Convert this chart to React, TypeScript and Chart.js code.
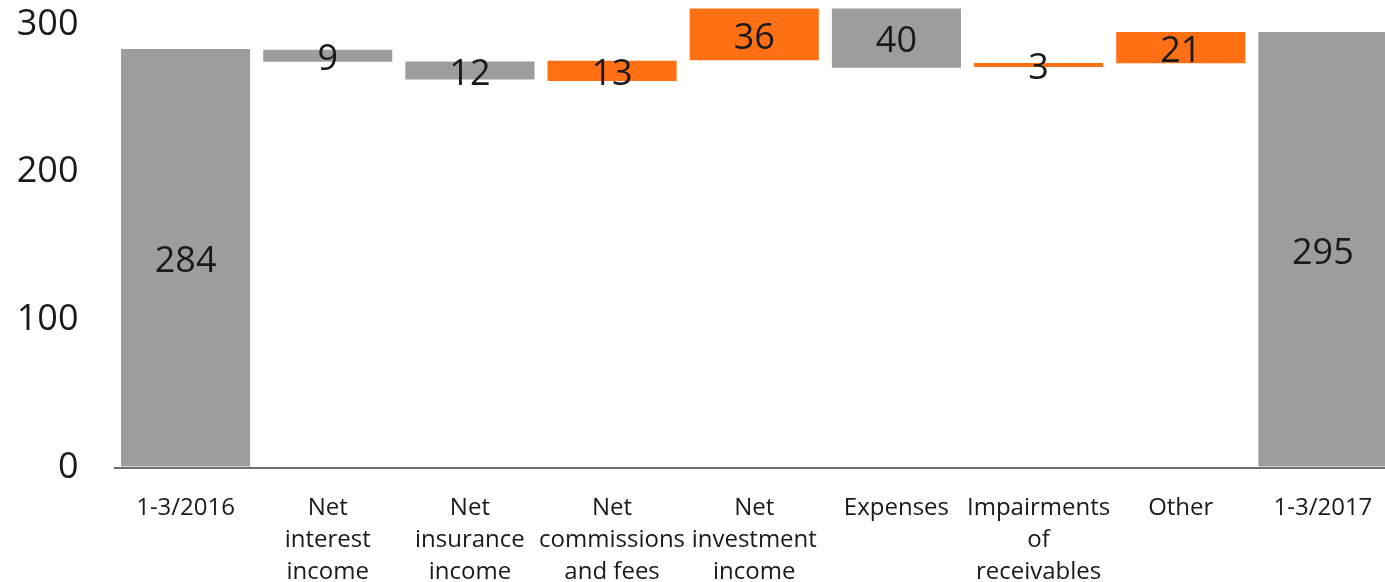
import React, { useEffect, useRef } from "react";
import { Chart, registerables } from "chart.js";

Chart.register(...registerables);

const categories: (string | string[])[] = [
  "1-3/2016",
  ["Net", "interest", "income"],
  ["Net", "insurance", "income"],
  ["Net", "commissions", "and fees"],
  ["Net", "investment", "income"],
  "Expenses",
  ["Impairments", "of", "receivables"],
  "Other",
  "1-3/2017",
];

const barStart = [0, 274, 262, 261, 275, 270, 270.5, 273, 0];
const barEnd = [284, 283.5, 275.5, 276, 311.5, 311.5, 274.5, 295.5, 295.5];
const valueLabels = ["284", "9", "12", "13", "36", "40", "3", "21", "295"];
const barKinds = ["total", "neg", "neg", "pos", "pos", "neg", "pos", "pos", "total"];
const yTicks = [0, 100, 200, 300];

const GRAY = "#9d9d9d";
const ORANGE = "#ff7015";
const FONT = "'Open Sans', 'DejaVu Sans', sans-serif";

const valueLabelPlugin = {
  id: "valueLabels",
  afterDatasetsDraw(chart: any) {
    const ctx = chart.ctx;
    const meta = chart.getDatasetMeta(0);
    ctx.save();
    ctx.font = `36px ${FONT}`;
    ctx.fillStyle = "#1a1a1a";
    ctx.textAlign = "center";
    ctx.textBaseline = "middle";
    meta.data.forEach((el: any, i: number) => {
      const y = (el.y + el.base) / 2;
      ctx.fillText(valueLabels[i], el.x, y + 4);
    });
    ctx.restore();
  },
};

export default function App() {
  const ref = useRef<HTMLCanvasElement | null>(null);

  useEffect(() => {
    if (!ref.current) return;
    const chart = new Chart(ref.current, {
      type: "bar",
      data: {
        labels: categories as any,
        datasets: [
          {
            data: barStart.map((s, i) => [s, barEnd[i]]) as any,
            backgroundColor: barKinds.map((k) => (k === "pos" ? ORANGE : GRAY)),
            borderColor: "rgba(255,255,255,0.5)",
            borderWidth: 1,
            borderSkipped: false,
            categoryPercentage: 1,
            barPercentage: 0.922,
          },
        ],
      },
      options: {
        responsive: false,
        animation: false,
        layout: { padding: 0 },
        plugins: {
          legend: { display: false },
          tooltip: { enabled: false },
        },
        scales: {
          x: {
            offset: true,
            grid: { display: false, drawTicks: false },
            border: { display: true, color: "#6e6e6e", width: 2 },
            ticks: {
              autoSkip: false,
              maxRotation: 0,
              minRotation: 0,
              padding: 24,
              color: "#1a1a1a",
              font: { family: FONT, size: 24, lineHeight: 1.35 },
            },
            afterFit(s: any) {
              s.height = 114.5;
              s.paddingLeft = 0;
              s.paddingRight = 0;
            },
          },
          y: {
            min: 0,
            max: 316.5,
            grid: { display: false, drawTicks: false },
            border: { display: false },
            ticks: {
              stepSize: 100,
              padding: 36,
              color: "#1a1a1a",
              font: { family: FONT, size: 36 },
            },
            afterBuildTicks(s: any) {
              s.ticks = yTicks.map((v) => ({ value: v }));
            },
            afterFit(s: any) {
              s.width = 114.5;
              s.paddingTop = 0;
              s.paddingBottom = 0;
            },
          },
        },
      },
      plugins: [valueLabelPlugin],
    });
    return () => chart.destroy();
  }, []);

  return (
    <div
      style={{
        position: "fixed",
        left: 0,
        top: 0,
        width: 1385,
        height: 582,
        overflow: "hidden",
        background: "#ffffff",
      }}
    >
      <canvas ref={ref} width={1394} height={582} style={{ width: 1394, height: 582, display: "block" }} />
    </div>
  );
}
